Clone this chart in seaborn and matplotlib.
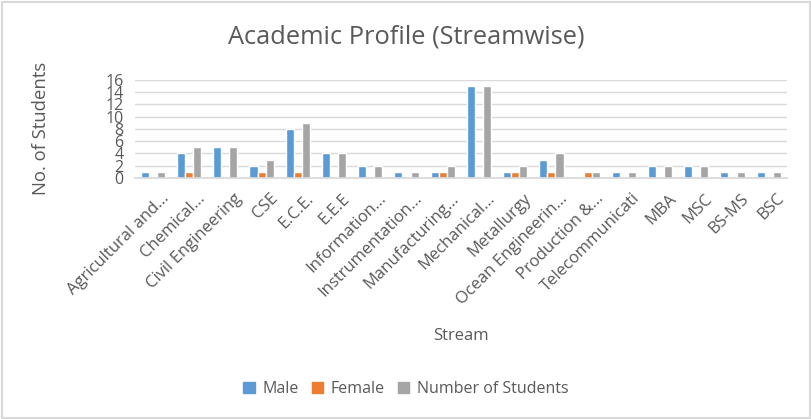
import pandas as pd
import matplotlib.pyplot as plt
import matplotlib.transforms as mtransforms
import seaborn as sns
from matplotlib.patches import Rectangle

# Data
streams = ["Agricultural and...", "Chemical...", "Civil Engineering", "CSE", "E.C.E.", "E.E.E",
           "Information...", "Instrumentation...", "Manufacturing...", "Mechanical...", "Metallurgy",
           "Ocean Engineerin...", "Production &...", "Telecommunicati", "MBA", "MSC", "BS-MS", "BSC"]
male = [1, 4, 5, 2, 8, 4, 2, 1, 1, 15, 1, 3, 0, 1, 2, 2, 1, 1]
female = [0, 1, 0, 1, 1, 0, 0, 0, 1, 0, 1, 1, 1, 0, 0, 0, 0, 0]
total = [1, 5, 5, 3, 9, 4, 2, 1, 2, 15, 2, 4, 1, 1, 2, 2, 1, 1]
series = ["Male", "Female", "Number of Students"]

df = pd.DataFrame({"Stream": streams, "Male": male, "Female": female, "Number of Students": total})
df_long = df.melt(id_vars="Stream", var_name="Series", value_name="Count")

sns.set_theme(style="white")
plt.rcParams['font.family'] = ['Open Sans', 'DejaVu Sans']
pal = {"Male": "#5B9BD5", "Female": "#ED7D31", "Number of Students": "#A5A5A5"}
txt = "#595959"

fig = plt.figure(figsize=(8.12, 4.19), dpi=100)
ax = fig.add_axes([0.166, 0.575, 0.803, 0.235])
sns.barplot(data=df_long, x="Stream", y="Count", hue="Series", hue_order=series,
            palette=pal, width=0.67, gap=0, saturation=1, ax=ax, legend=True)

ax.set_ylim(0, 16)
ax.set_yticks(range(0, 17, 2))
ax.set_xlim(-0.5, len(streams) - 0.5)
ax.yaxis.grid(True, color="#D9D9D9", linewidth=1)
ax.set_axisbelow(True)
for s in ["top", "right", "left"]:
    ax.spines[s].set_visible(False)
ax.spines["bottom"].set_color("#D9D9D9")
ax.tick_params(axis="both", length=0, colors=txt)
ax.tick_params(axis="x", labelsize=12, pad=9)
ax.tick_params(axis="y", labelsize=11.5, pad=8)
shift = mtransforms.ScaledTranslation(8 / 100, 0, fig.dpi_scale_trans)
for lab in ax.get_xticklabels():
    lab.set_rotation(45)
    lab.set_ha("right")
    lab.set_rotation_mode("anchor")
    lab.set_transform(lab.get_transform() + shift)

ax.set_xlabel("Stream", color=txt, fontsize=12)
ax.set_ylabel("No. of Students", color=txt, fontsize=13.3)
ax.yaxis.set_label_coords(-0.13, 0.5)
ax.xaxis.set_label_coords(0.5, -1.52)

fig.text(0.5, 0.912, "Academic Profile (Streamwise)", ha="center", va="center",
         fontsize=18.3, color=txt)

ax.get_legend().remove()
handles = [Rectangle((0, 0), 1, 1, color=pal[s]) for s in series]
fig.legend(handles, series, loc="center", bbox_to_anchor=(0.5, 0.072), ncol=3, frameon=False,
           fontsize=11.5, labelcolor=txt, handlelength=0.7, handleheight=0.7,
           handletextpad=0.5, columnspacing=0.8)

fig.patches.append(Rectangle((0.002, 0.003), 0.995, 0.993, transform=fig.transFigure,
                             fill=False, edgecolor="#D9D9D9", linewidth=1.5))

fig.savefig("out.png", dpi=100)
